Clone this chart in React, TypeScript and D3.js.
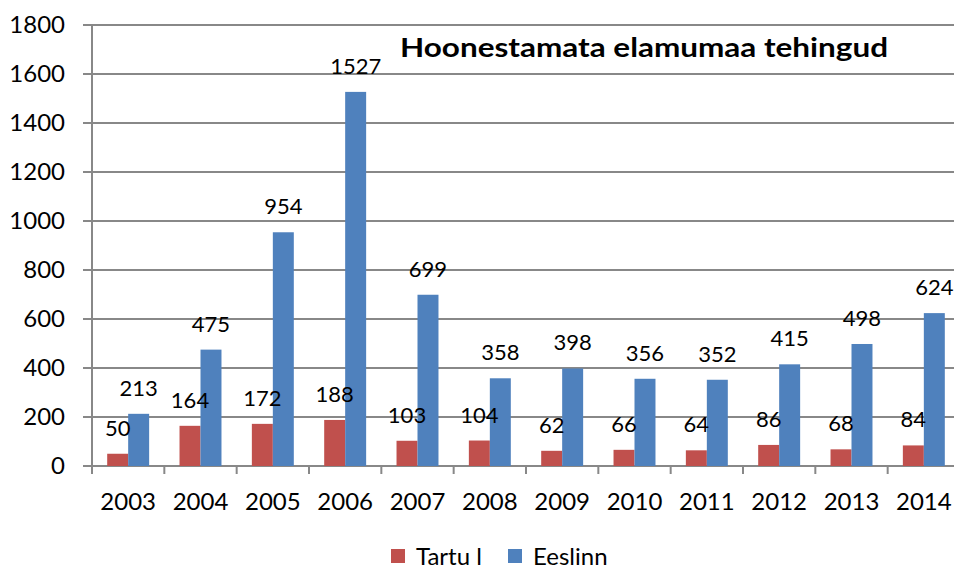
import React from 'react';
import * as d3 from 'd3';

// values
const years = ['2003', '2004', '2005', '2006', '2007', '2008', '2009', '2010', '2011', '2012', '2013', '2014'];
const tartu = [50, 164, 172, 188, 103, 104, 62, 66, 64, 86, 68, 84];
const eeslinn = [213, 475, 954, 1527, 699, 358, 398, 356, 352, 415, 498, 624];
const yTicks = [0, 200, 400, 600, 800, 1000, 1200, 1400, 1600, 1800];
const seriesNames = ['Tartu l', 'Eeslinn'];
const colors = ['#C0504D', '#4F81BD'];

const width = 954;
const height = 569;
const font = 'Lato, "Open Sans", sans-serif';

export default function App() {
  const left = 92;
  const right = 960; // plot runs past the right edge, like the original crop
  const top = 25;
  const bottom = 466;

  const x = d3.scaleBand().domain(years).range([left, right]).paddingInner(0.42).paddingOuter(0.21);
  const inner = d3.scaleBand().domain(seriesNames).range([0, x.bandwidth()]);
  const y = d3.scaleLinear().domain([0, 1800]).range([bottom, top]);

  const series = [tartu, eeslinn];
  const step = x.step();

  return (
    <svg width={width} height={height} style={{ position: 'absolute', left: 0, top: 0, background: '#fff' }}>
      {/* gridlines + y ticks */}
      {yTicks.map(t => (
        <g key={t}>
          <line x1={left - 9} x2={right} y1={y(t)} y2={y(t)} stroke="#888" strokeWidth={2} />
          <text x={65} y={y(t)} dy="0.35em" textAnchor="end" fontFamily={font} fontSize={24} fill="#000">
            {t}
          </text>
        </g>
      ))}
      {/* y axis line */}
      <line x1={left} x2={left} y1={top} y2={bottom + 8} stroke="#888" strokeWidth={2} />
      {/* x ticks */}
      {d3.range(years.length + 1).map(i => (
        <line key={i} x1={left + i * step} x2={left + i * step} y1={bottom} y2={bottom + 8} stroke="#888" strokeWidth={2} />
      ))}

      {/* bars */}
      {series.map((vals, s) => (
        <g key={s}>
          {vals.map((v, i) => {
            const bx = (x(years[i]) ?? 0) + (inner(seriesNames[s]) ?? 0);
            return (
              <rect key={i} x={bx} y={y(v)} width={inner.bandwidth()} height={bottom - y(v)} fill={colors[s]} />
            );
          })}
        </g>
      ))}
      {/* data labels */}
      {series.map((vals, s) => (
        <g key={'l' + s}>
          {vals.map((v, i) => {
            const cx = (x(years[i]) ?? 0) + (inner(seriesNames[s]) ?? 0) + inner.bandwidth() / 2;
            return (
              <text key={i} x={cx} y={y(v) - 18} textAnchor="middle" fontFamily={font} fontSize={22} fill="#000">
                {v}
              </text>
            );
          })}
        </g>
      ))}

      {/* x labels */}
      {years.map(yr => (
        <text key={yr} x={(x(yr) ?? 0) + x.bandwidth() / 2} y={510} textAnchor="middle" fontFamily={font} fontSize={24} fill="#000">
          {yr}
        </text>
      ))}

      {/* title */}
      <text x={400} y={57} fontFamily={font} fontWeight="bold" fontSize={27} fill="#000"
        textLength={488} lengthAdjust="spacingAndGlyphs">
        Hoonestamata elamumaa tehingud
      </text>

      {/* legend */}
      <rect x={391} y={549} width={14} height={14} fill={colors[0]} />
      <text x={416} y={565} fontFamily={font} fontSize={24} fill="#000">{seriesNames[0]}</text>
      <rect x={508} y={549} width={14} height={14} fill={colors[1]} />
      <text x={533} y={565} fontFamily={font} fontSize={24} fill="#000">{seriesNames[1]}</text>
    </svg>
  );
}
